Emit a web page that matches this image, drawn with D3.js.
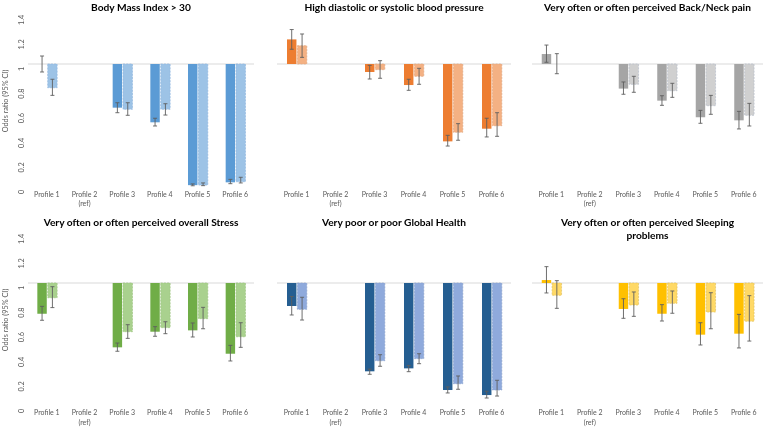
<!DOCTYPE html>
<html><head><meta charset="utf-8">
<script src="https://cdn.jsdelivr.net/npm/d3@7"></script>
<style>html,body{margin:0;background:#fff;} svg{display:block;font-family:Lato,"Open Sans",sans-serif;will-change:transform;}</style>
</head><body>
<svg id="c" width="763" height="428"></svg>
<script>
// ---- data ----
const profiles = ["Profile 1", "Profile 2|(ref)", "Profile 3", "Profile 4", "Profile 5", "Profile 6"];
const yTicks = [0, 0.2, 0.4, 0.6, 0.8, 1, 1.2, 1.4];
const titles = ["Body Mass Index > 30", "High diastolic or systolic blood pressure", "Very often or often perceived Back/Neck pain",
  "Very often or often perceived overall Stress", "Very poor or poor Global Health", "Very often or often perceived Sleeping|problems"];
// [OR, lower CI, upper CI]; null = reference
const bmiDark   = [[1.00,0.935,1.065], null, [0.645,0.604,0.685], [0.526,0.496,0.559], [0.015,0.010,0.025], [0.038,0.027,0.062]];
const bmiLight  = [[0.807,0.745,0.876], null, [0.632,0.583,0.685], [0.632,0.585,0.677], [0.016,0.011,0.033], [0.043,0.033,0.079]];
const bpDark    = [[1.20,1.12,1.28], null, [0.935,0.878,0.989], [0.829,0.786,0.876], [0.371,0.333,0.42], [0.474,0.407,0.559]];
const bpLight   = [[1.149,1.054,1.244], null, [0.954,0.884,1.027], [0.90,0.835,0.965], [0.445,0.38,0.515], [0.498,0.412,0.604]];
const backDark  = [[1.081,1.014,1.154], null, [0.80,0.754,0.854], [0.702,0.664,0.742], [0.567,0.518,0.623], [0.542,0.472,0.615]];
const backLight = [[1.00,0.921,1.084], null, [0.835,0.77,0.90], [0.783,0.729,0.843], [0.661,0.591,0.745], [0.583,0.496,0.68]];
const stressDark  = [[0.75,0.697,0.81], null, [0.477,0.445,0.512], [0.604,0.567,0.645], [0.615,0.561,0.675], [0.425,0.366,0.493]];
const stressLight = [[0.88,0.80,0.97], null, [0.604,0.55,0.661], [0.637,0.588,0.685], [0.71,0.628,0.802], [0.563,0.477,0.677]];
const healthDark  = [[0.813,0.74,0.89], null, [0.282,0.258,0.30], [0.306,0.279,0.33], [0.13,0.106,0.155], [0.089,0.065,0.12]];
const healthLight = [[0.786,0.699,0.884], null, [0.368,0.323,0.417], [0.385,0.344,0.425], [0.181,0.136,0.244], [0.13,0.081,0.209]];
const sleepDark   = [[1.024,0.919,1.133], null, [0.789,0.713,0.872], [0.75,0.691,0.824], [0.58,0.496,0.677], [0.588,0.472,0.745]];
const sleepLight  = [[0.90,0.794,1.019], null, [0.821,0.729,0.927], [0.835,0.754,0.935], [0.764,0.628,0.921], [0.689,0.528,0.897]];

const darkColors  = ["#5b9bd5", "#ed7d31", "#a5a5a5", "#70ad47", "#255e91", "#ffc000"];
const lightColors = ["#9dc3e6", "#f4b183", "#d0d0d0", "#a9d18e", "#8faadc", "#ffd966"];
const lightStroke = ["#8fb6df", "#e0a67f", "#b4bcc8", "#9cc480", "#8aa2cc", "#e0c060"];

const panels = [
  {dark: bmiDark, light: bmiLight}, {dark: bpDark, light: bpLight}, {dark: backDark, light: backLight},
  {dark: stressDark, light: stressLight}, {dark: healthDark, light: healthLight}, {dark: sleepDark, light: sleepLight}
];

// ---- layout ----
const svg = d3.select("#c");
const rowY = [{zero: 187, one: 64}, {zero: 406, one: 283}];
const colX = [[28, 254], [277, 511], [532, 763]];
const labelY = [196.5, 415];
const titleY = [11, 226];

panels.forEach((p, i) => {
  const r = Math.floor(i / 3), c = i % 3;
  const y = d3.scaleLinear().domain([0, 1]).range([rowY[r].zero, rowY[r].one]);
  const x = d3.scaleBand().domain(profiles).range(colX[c]);
  const x1 = d3.scaleBand().domain(["dark", "light"]).range([-9.5, 10.3]).paddingInner(0.09);
  const g = svg.append("g");

  // title
  const tl = titles[i].split("|");
  tl.forEach((t, k) => g.append("text").attr("x", (colX[c][0] + colX[c][1]) / 2)
    .attr("y", titleY[r] + k * 13).attr("text-anchor", "middle").attr("font-size", 10.2).attr("font-weight", "bold")
    .attr("fill", "#000").text(t));

  // y axis (left column only)
  if (c === 0) {
    const ax = g.append("g");
    yTicks.forEach(v => {
      ax.append("text").attr("transform", `translate(24,${y(v) + 5}) rotate(-90)`)
        .attr("text-anchor", "middle").attr("font-size", 7.3).attr("fill", "#595959").text(d3.format("~g")(v));
    });
    g.append("text").attr("transform", `translate(8,${r === 0 ? 101 : 320}) rotate(-90)`)
      .attr("text-anchor", "middle").attr("font-size", 7.3).attr("fill", "#595959").text("Odds ratio (95% CI)");
  }

  // baseline at OR = 1
  g.append("line").attr("x1", colX[c][0]).attr("x2", colX[c][1]).attr("y1", y(1)).attr("y2", y(1))
    .attr("stroke", "#d9d9d9").attr("stroke-width", 1);

  // x labels
  profiles.forEach(pr => {
    const parts = pr.split("|");
    parts.forEach((t, k) => g.append("text").attr("x", x(pr) + x.bandwidth() / 2).attr("y", labelY[r] + k * 9.5)
      .attr("text-anchor", "middle").attr("font-size", 7).attr("fill", "#595959").text(t));
  });

  // bars + error bars
  [["dark", p.dark], ["light", p.light]].forEach(([key, arr]) => {
    arr.forEach((d, j) => {
      if (!d) return;
      const cx = x(profiles[j]) + x.bandwidth() / 2;
      const bx = cx + x1(key);
      const bw = x1.bandwidth();
      const y0 = Math.min(y(d[0]), y(1)), h = Math.abs(y(d[0]) - y(1));
      const rect = g.append("rect").attr("x", bx).attr("y", y0).attr("width", bw).attr("height", Math.max(h, 0.01))
        .attr("fill", key === "dark" ? darkColors[i] : lightColors[i]);
      if (key === "light" && h > 1) rect.attr("stroke", lightStroke[i]).attr("stroke-width", 0.7).attr("stroke-dasharray", "2,1.2");
      const ex = bx + bw / 2;
      const eg = g.append("g").attr("stroke", "#5f5f5f").attr("stroke-width", 0.9);
      eg.append("line").attr("x1", ex).attr("x2", ex).attr("y1", y(d[1])).attr("y2", y(d[2]));
      eg.append("line").attr("x1", ex - 2).attr("x2", ex + 2).attr("y1", y(d[1])).attr("y2", y(d[1]));
      eg.append("line").attr("x1", ex - 2).attr("x2", ex + 2).attr("y1", y(d[2])).attr("y2", y(d[2]));
    });
  });
});
</script>
</body></html>
